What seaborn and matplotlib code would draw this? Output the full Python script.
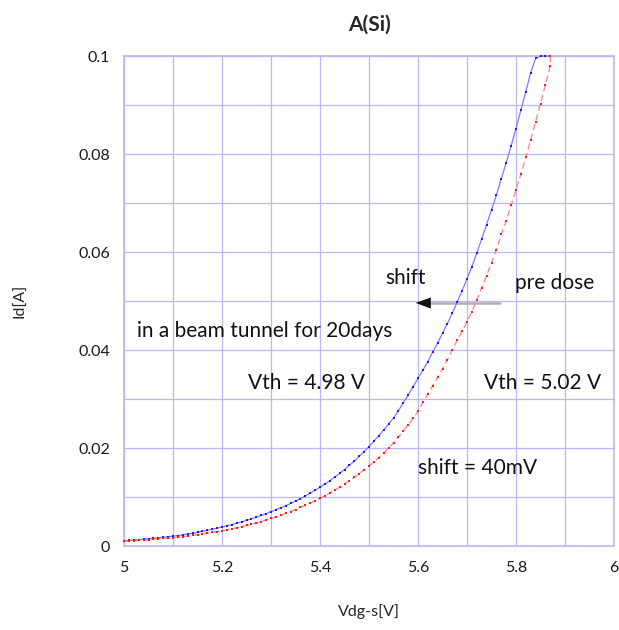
import matplotlib
matplotlib.use("Agg")
import matplotlib.pyplot as plt
from matplotlib.ticker import MultipleLocator, FuncFormatter
import seaborn as sns
import numpy as np
import pandas as pd

# gate voltage, 5.00 .. 5.87 V in 0.01 V steps
vdgs = [round(5.0 + 0.01 * i, 2) for i in range(88)]

# after 20 days in the beam tunnel (blue)
id_after = [
    0.00108, 0.00115, 0.00122, 0.00130, 0.00138, 0.00147, 0.00156, 0.00166, 0.00177, 0.00188,
    0.00200, 0.00214, 0.00229, 0.00244, 0.00261, 0.00279, 0.00298, 0.00319, 0.00341, 0.00365,
    0.00390, 0.00413, 0.00438, 0.00465, 0.00493, 0.00522, 0.00554, 0.00587, 0.00623, 0.00660,
    0.00700, 0.00739, 0.00780, 0.00823, 0.00868, 0.00916, 0.00967, 0.01021, 0.01077, 0.01137,
    0.01200, 0.01265, 0.01333, 0.01405, 0.01481, 0.01561, 0.01645, 0.01734, 0.01828, 0.01926,
    0.02030, 0.02140, 0.02250, 0.02370, 0.02490, 0.02610, 0.02760, 0.02920, 0.03080, 0.03250,
    0.03420, 0.03590, 0.03760, 0.03960, 0.04140, 0.04340, 0.04540, 0.04750, 0.04980, 0.05210,
    0.05450, 0.05700, 0.05980, 0.06270, 0.06560, 0.06860, 0.07160, 0.07500, 0.07820, 0.08160,
    0.08520, 0.08900, 0.09270, 0.09660, 0.09950, 0.10000, 0.10000, 0.10000,
]

# pre dose (red)
id_pre = [
    0.00096, 0.00102, 0.00108, 0.00115, 0.00122, 0.00130, 0.00138, 0.00147, 0.00156, 0.00163,
    0.00170, 0.00181, 0.00193, 0.00205, 0.00219, 0.00233, 0.00249, 0.00262, 0.00278, 0.00294,
    0.00312, 0.00332, 0.00352, 0.00374, 0.00397, 0.00420, 0.00445, 0.00472, 0.00500, 0.00530,
    0.00562, 0.00595, 0.00630, 0.00666, 0.00704, 0.00744, 0.00786, 0.00830, 0.00876, 0.00923,
    0.00972, 0.01025, 0.01080, 0.01138, 0.01198, 0.01262, 0.01330, 0.01400, 0.01475, 0.01553,
    0.01630, 0.01715, 0.01805, 0.01900, 0.02000, 0.02110, 0.02225, 0.02345, 0.02470, 0.02605,
    0.02745, 0.02930, 0.03100, 0.03270, 0.03440, 0.03620, 0.03800, 0.04000, 0.04200, 0.04380,
    0.04580, 0.04780, 0.05020, 0.05270, 0.05520, 0.05780, 0.06050, 0.06360, 0.06640, 0.06950,
    0.07270, 0.07590, 0.07930, 0.08290, 0.08660, 0.09030, 0.09410, 0.09800,
]
# compliance point at the end of the pre dose sweep
pre_end_v = 5.87
pre_end_id = 0.1

df_after = pd.DataFrame({"v": vdgs, "id": id_after})
df_pre = pd.DataFrame({"v": vdgs + [pre_end_v], "id": id_pre + [pre_end_id]})

sns.set_style("white")
plt.rcParams["font.family"] = ["Lato", "DejaVu Sans"]

fig = plt.figure(figsize=(6.19, 6.30), dpi=100)
ax = fig.add_axes([124 / 619, 84 / 630, 490 / 619, 490 / 630])

grid_col = "#b8b8f4"

# lines
sns.lineplot(data=df_after, x="v", y="id", ax=ax, color="#7a7aff", lw=0.9,
             sort=False, estimator=None, clip_on=False, zorder=3)
sns.lineplot(data=df_pre, x="v", y="id", ax=ax, color="#ff8080", lw=0.9,
             sort=False, estimator=None, clip_on=False, zorder=3,
             linestyle=(0, (5, 3)))
# markers
sns.scatterplot(data=df_after, x="v", y="id", ax=ax, color="#1a1aff", marker="s",
                s=4, linewidth=0, clip_on=False, zorder=4)
sns.scatterplot(data=df_pre, x="v", y="id", ax=ax, color="#ff1a1a", marker="s",
                s=4, linewidth=0, clip_on=False, zorder=4)

ax.set_xlim(5, 6)
ax.set_ylim(0, 0.1)
ax.xaxis.set_major_locator(MultipleLocator(0.2))
ax.xaxis.set_minor_locator(MultipleLocator(0.1))
ax.yaxis.set_major_locator(MultipleLocator(0.02))
ax.yaxis.set_minor_locator(MultipleLocator(0.01))
ax.xaxis.set_major_formatter(FuncFormatter(lambda v, p: f"{v:g}"))
ax.yaxis.set_major_formatter(FuncFormatter(lambda v, p: f"{v:g}"))
ax.grid(True, which="both", color=grid_col, lw=0.9)
ax.set_axisbelow(True)
ax.tick_params(which="both", length=0, labelsize=11.5, colors="#1a1a1a")
ax.tick_params(axis="y", pad=10)
ax.tick_params(axis="x", pad=11)
for s in ax.spines.values():
    s.set_color(grid_col)
    s.set_linewidth(1.2)

ax.set_xlabel("Vdg-s[V]", fontsize=11.5)
ax.set_ylabel("Id[A]", fontsize=11.5)
ax.xaxis.label.set_va("center")
ax.yaxis.label.set_va("center")
ax.xaxis.set_label_coords(0.5, (546 - 612) / 490)
ax.yaxis.set_label_coords((20 - 124) / 490, 0.5)
ax.set_title("A(Si)", fontsize=15, fontweight="bold", pad=18)

txt = dict(fontsize=15, color="#111111", va="center", ha="left")
ax.text(5.534, 0.0547, "shift", **txt)
ax.text(5.798, 0.0537, "pre dose", clip_on=False, **txt)
ax.text(5.027, 0.0439, "in a beam tunnel for 20days", **txt)
ax.text(5.253, 0.0333, "Vth = 4.98 V", **txt)
ax.text(5.735, 0.0333, "Vth = 5.02 V", **txt)
ax.text(5.600, 0.0159, "shift = 40mV", **txt)

ax.annotate("", xy=(5.595, 0.0496), xytext=(5.767, 0.0496),
            arrowprops=dict(arrowstyle="-|>,head_length=1.1,head_width=0.4",
                            color="#111111", lw=0, shrinkA=0, shrinkB=0))
ax.plot([5.62, 5.767], [0.0496, 0.0496], color="#b0b0b0", lw=1.8, zorder=2)

fig.savefig("out.png", dpi=100)
